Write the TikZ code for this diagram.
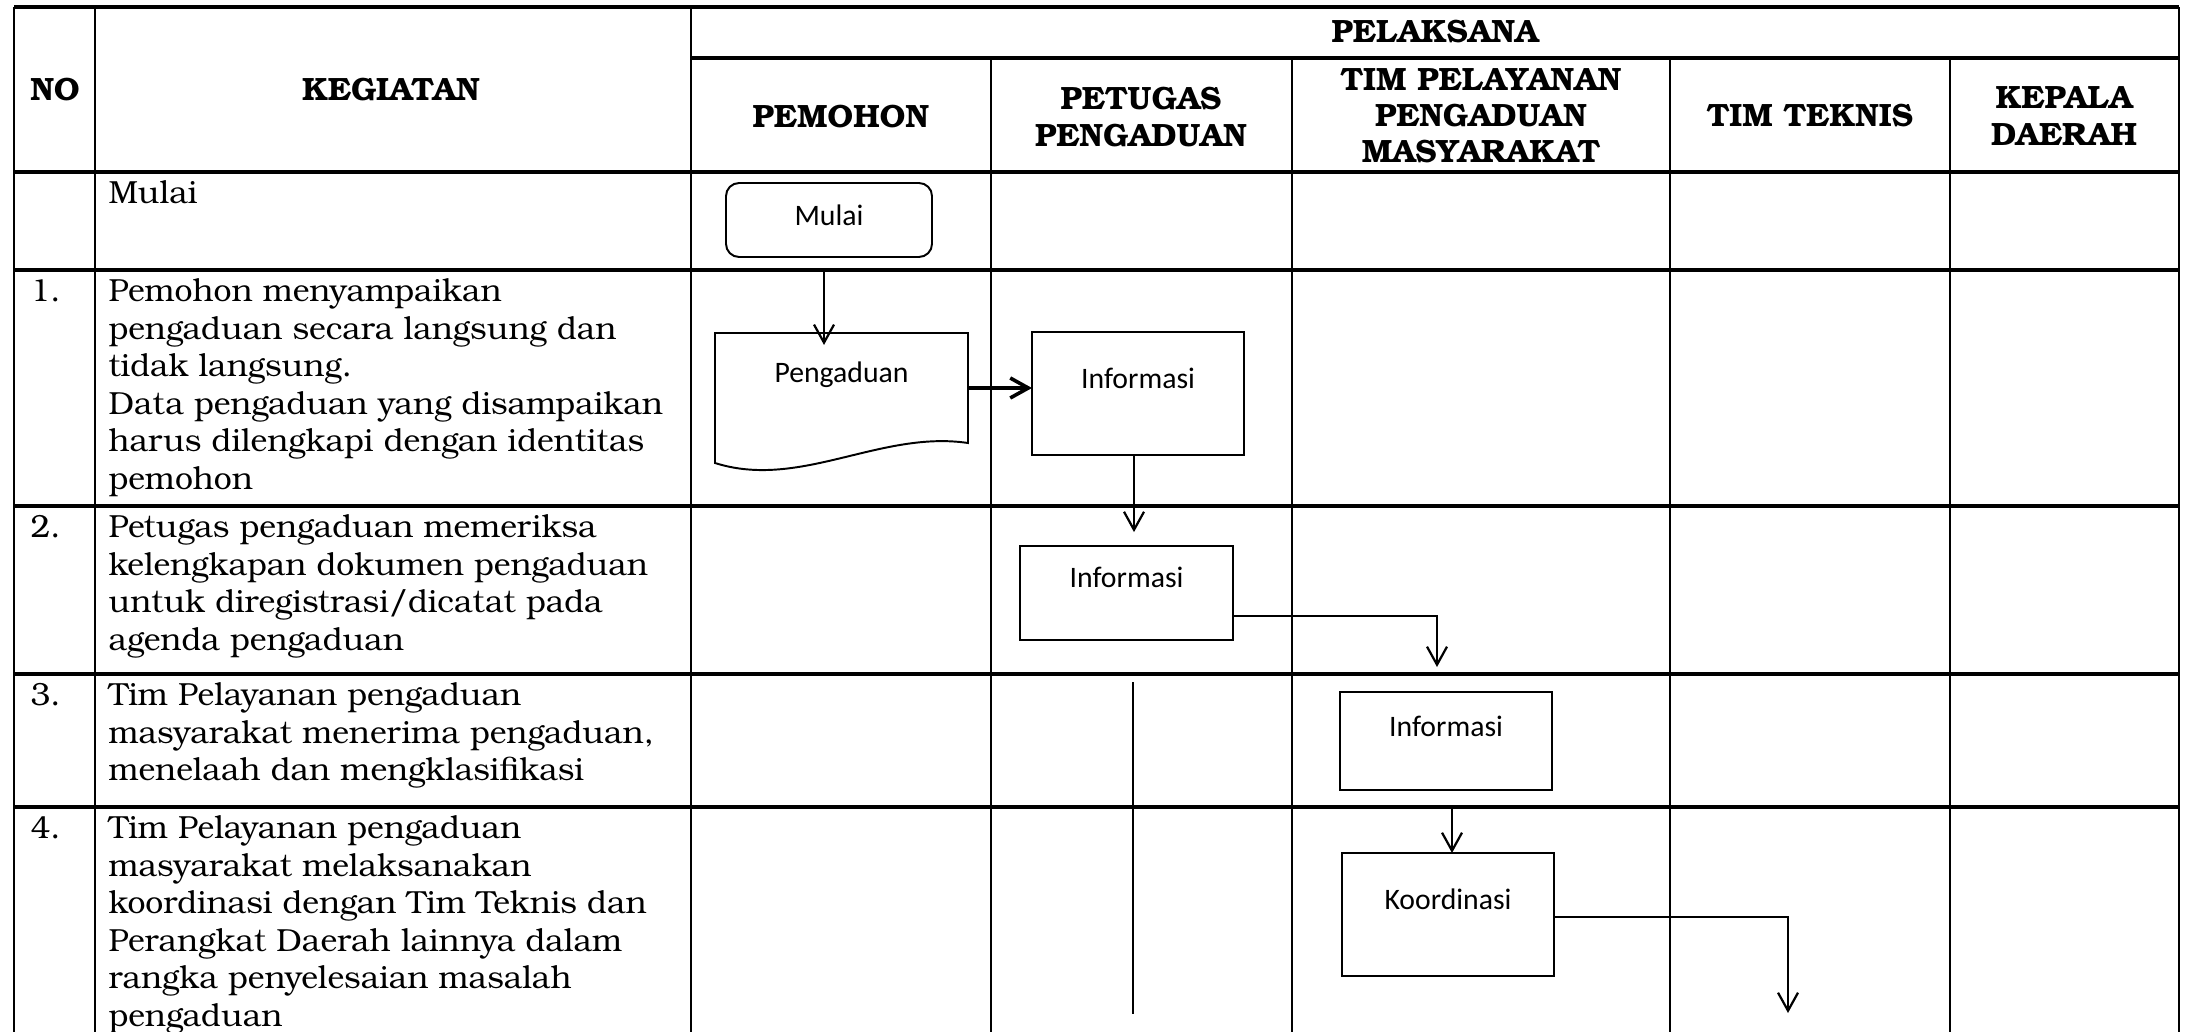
\documentclass[tikz,border=0pt]{standalone}
\usepackage{fontspec}
\setmainfont{texgyrebonum}[Extension=.otf, UprightFont=*-regular, BoldFont=*-bold, ItalicFont=*-italic, BoldItalicFont=*-bolditalic]
\newfontfamily\boxfont{Carlito}
\usetikzlibrary{arrows.meta,calc}
\tikzset{
  hline/.style={line width=1.1pt},
  vline/.style={line width=0.7pt},
  box/.style={draw, line width=0.7pt, inner sep=0pt, outer sep=0pt,
    font=\boxfont\fontsize{10.7pt}{12pt}\selectfont, text height=7pt, text depth=10.6pt},
  arr/.style={line width=0.8pt, -{Straight Barb[length=6.5pt,width=7.2pt]}},
  hdr/.style={font=\bfseries\fontsize{11.6pt}{13pt}\selectfont, align=center, inner sep=0pt},
  body/.style={font=\fontsize{11.5pt}{13.5pt}\selectfont, align=left, anchor=north west, inner sep=0pt},
}
\begin{document}
\begin{tikzpicture}[x=0.36pt,y=-0.36pt]
\useasboundingbox (0,0) rectangle (2186,1032);
% table grid
\draw[hline] (14,7) -- (2179,7);
\draw[hline] (691,58) -- (2179,58);
\foreach \y in {172,270,506,674,807} \draw[hline] (14,\y) -- (2179,\y);
\foreach \x in {14,95,691,2179} \draw[vline] (\x,7) -- (\x,1032);
\foreach \x in {991,1292,1670,1950} \draw[vline] (\x,58) -- (\x,1032);
% headers
\node[hdr] (hno) at (55,90) {NO};
\node[hdr] (hkeg) at (391,90) {KEGIATAN};
\node[hdr] (hpel) at (1435,32) {PELAKSANA};
\node[hdr] (hpem) at (841,117) {PEMOHON};
\node[hdr] (hpet) at (1141,117) {PETUGAS\\PENGADUAN};
\node[hdr] (htpm) at (1481,116) {TIM PELAYANAN\\PENGADUAN\\MASYARAKAT};
\node[hdr] (htt) at (1810,116) {TIM TEKNIS};
\node[hdr] (hkd) at (2064,116) {KEPALA\\DAERAH};
% row texts
\node[body] (t0) at (108,176.75) {\strut Mulai};
\node[body] (n1) at (30,274.75) {\strut 1.};
\node[body] (t1) at (108,274.75) {\strut Pemohon menyampaikan\\pengaduan secara langsung dan\\tidak langsung.\\Data pengaduan yang disampaikan\\harus dilengkapi dengan identitas\\pemohon};
\node[body] (n2) at (30,510.75) {\strut 2.};
\node[body] (t2) at (108,510.75) {\strut Petugas pengaduan memeriksa\\kelengkapan dokumen pengaduan\\untuk diregistrasi/dicatat pada\\agenda pengaduan};
\node[body] (n3) at (30,678.75) {\strut 3.};
\node[body] (t3) at (108,678.75) {\strut Tim Pelayanan pengaduan\\masyarakat menerima pengaduan,\\menelaah dan mengklasifikasi};
\node[body] (n4) at (30,811.75) {\strut 4.};
\node[body] (t4) at (108,811.75) {\strut Tim Pelayanan pengaduan\\masyarakat melaksanakan\\koordinasi dengan Tim Teknis dan\\Perangkat Daerah lainnya dalam\\rangka penyelesaian masalah\\pengaduan};
% flow nodes
\node[box, rounded corners=4.7pt, minimum width=74.16pt, minimum height=26.64pt, text depth=3pt] (mulai) at (829,220) {Mulai};
\node[box, draw=none, minimum width=91.08pt, minimum height=39.6pt] (doc) at (841.5,388) {Pengaduan};
\draw[line width=0.7pt] (doc.north west) -- (doc.north east) -- (doc.south east)
  .. controls ($(doc.south east)+(-88,-13)$) and ($(doc.south west)+(85,47)$) .. ([yshift=-7.2pt]doc.south west) -- cycle;
\node[box, minimum width=76.32pt, minimum height=44.28pt] (info1) at (1138,393.5) {Informasi};
\node[box, minimum width=76.68pt, minimum height=33.84pt] (info2) at (1126.5,593) {Informasi};
\node[box, minimum width=76.32pt, minimum height=35.28pt] (info3) at (1446,741) {Informasi};
\node[box, minimum width=76.32pt, minimum height=44.28pt] (koord) at (1448,914.5) {Koordinasi};
\coordinate (kend) at (1788,1013);
\coordinate (ltop) at (1133,682);
\coordinate (lbot) at (1133,1014);
% connectors
\coordinate (ma) at ($(mulai.south)+(-5,0)$);
\draw[arr, shorten <=4.7pt, shorten >=-4.3pt] (ma) -- (ma |- doc.north);
\draw[arr, line width=1.3pt] (doc.east) -- (doc.east -| info1.west);
\coordinate (i1b) at ($(info1.south)+(-4,0)$);
\draw[arr, shorten >=5pt] (i1b) -- (i1b |- info2.north);
\coordinate (i2e) at ($(info2.east)+(0,23)$);
\coordinate (i3n) at ($(info3.north)+(-9,0)$);
\draw[arr, shorten >=9pt] (i2e) -| (i3n);
\coordinate (i3s) at ($(info3.south)+(6,0)$);
\draw[arr, shorten <=6.1pt] (i3s) -- (i3s |- koord.north);
\coordinate (ke) at ($(koord.east)+(0,2.5)$);
\draw[arr] (ke) -| (kend);
\draw[line width=0.6pt] (ltop) -- (lbot);
\end{tikzpicture}
\end{document}
